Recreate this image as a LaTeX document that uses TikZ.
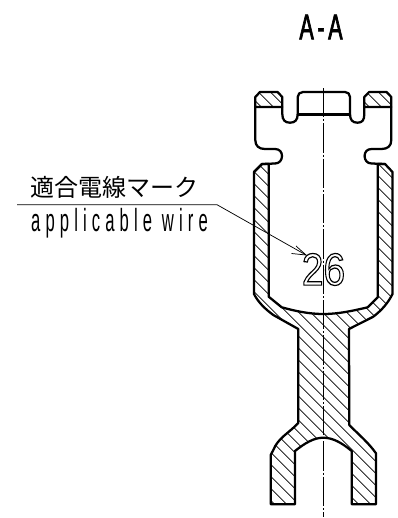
\documentclass[tikz,border=0pt]{standalone}
\usepackage{fontspec}
\setmainfont{Liberation Sans}
\newfontfamily\jpfont{Noto Sans CJK JP}
\newfontfamily\narrowfont[FakeStretch=0.52,LetterSpace=16]{Liberation Sans}
\newfontfamily\titlefont[FakeStretch=0.6,LetterSpace=10]{Liberation Sans}
\usetikzlibrary{arrows.meta}
\tikzset{
  outline/.style={line width=1.7pt,line join=round,line cap=round},
  thinline/.style={line width=0.55pt},
  hatchline/.style={line width=0.5pt},
  centre/.style={line width=0.45pt,dash pattern=on 22pt off 1.5pt on 1.5pt off 1.5pt},
  lab/.style={inner sep=0pt,anchor=center}
}
\def\bodyL{(255.3,107) -- (255.3,140) .. controls (255.3,146) and (259,149) .. (265,149) -- (275,149)
  .. controls (279.5,149) and (282,152) .. (282,156) .. controls (282,160) and (279.5,163.5) .. (275,163.5) -- (262,164) -- (254,172)}
\begin{document}
\begin{tikzpicture}[x=0.75pt,y=-0.75pt]
\useasboundingbox (0,0) rectangle (398,518);
\def\cuppath{(262,164) -- (254,172) -- (254,294) .. controls (258,302) and (265,309) .. (273.3,315) -- (298.3,329)
 -- (298.3,423) .. controls (289,433) and (278,438) .. (273.3,450) -- (270.7,455) -- (270.7,504.3) -- (295,504.3) -- (295,451)
 .. controls (305,443) and (314,437.7) .. (323.3,437.7) .. controls (333,437.7) and (342,443) .. (351.7,451)
 -- (351.7,504.3) -- (376,504.3) -- (376,453.3) .. controls (368,442) and (358,434) .. (349.3,425) -- (349,329) -- (373.3,316.7)
 .. controls (382,310) and (388,303) .. (392.5,294) -- (392.5,172) -- (385,164) -- (377.7,164)
 -- (377.7,297.3) -- (367.7,307.3) .. controls (352,311) and (338,314) .. (323.3,314)
 .. controls (309,314) and (295,311) .. (281.7,307.3) -- (268.7,296.7) -- (268.7,164) -- cycle}
\def\blockL{(255.3,107) -- (255.3,97) -- (260,92) -- (277.5,92) -- (282.3,97) -- (282.3,107) -- cycle}
\def\blockR{(391.3,107) -- (391.3,97) -- (386.6,92) -- (369.1,92) -- (364.3,97) -- (364.3,107) -- cycle}
\begin{scope}
 \clip \cuppath;
 \foreach \k in {0,...,41}
   \draw[hatchline] ({240},{240+241.7-12*\k}) -- ({400},{400+241.7-12*\k});
\end{scope}
\begin{scope}
 \clip \blockL;
 \foreach \k in {31,...,37}
   \draw[hatchline] ({240},{240+241.7-12*\k}) -- ({400},{400+241.7-12*\k});
\end{scope}
\begin{scope}
 \clip \blockR;
 \foreach \k in {40,...,46}
   \draw[hatchline] ({240},{240+241.7-12*\k}) -- ({400},{400+241.7-12*\k});
\end{scope}
\draw[centre] (323.3,88) -- (323.3,517);
\draw[outline] \cuppath;
\draw[outline] \blockL;
\draw[outline] \blockR;
\draw[outline] \bodyL;
\draw[outline] (391.3,107) -- (391.3,140) .. controls (391.3,146) and (387.6,149) .. (381.6,149) -- (371.6,149)
  .. controls (367,149) and (364.6,152) .. (364.6,156) .. controls (364.6,160) and (367,163.5) .. (371.6,163.5) -- (385,164);
\draw[outline] (282.3,107) -- (282.3,114) .. controls (282.3,120) and (285,122.7) .. (290,122.7)
  .. controls (295,122.7) and (297.7,120) .. (297.7,114) -- (297.7,97) .. controls (297.7,94) and (300,92) .. (303,92)
  -- (345,92) .. controls (348,92) and (350,94) .. (350,97) -- (350,114) .. controls (350,120) and (352.5,122.7) .. (357.5,122.7)
  .. controls (362.5,122.7) and (364.3,120) .. (364.3,114) -- (364.3,107);
\draw[outline] (297.7,114.5) -- (350,114.5);
\coordinate (ldrA) at (17,204.7);
\coordinate (ldrB) at (217,204.7);
\coordinate (ldrC) at (306,255);
\draw[thinline] (ldrA) -- (ldrB) -- (ldrC);
\draw[thinline] (296,246) -- (ldrC) -- (291.5,253.5);
\node[lab] (title) at (321,27) {\special{pdf:code 2 Tr 0.5 w}\titlefont\fontsize{27}{27}\selectfont A-A\special{pdf:code 0 Tr}};
\node[lab] (jp) at (115,187.5) {\jpfont\fontsize{18}{18}\selectfont 適合電線マーク};
\node[lab] (en) at (119.5,223) {\narrowfont\fontsize{24}{24}\selectfont applicable wire};
\node[lab,xscale=0.86] (mark) at (323.5,269.5) {\special{pdf:code 1 Tr 0.9 w}\fontsize{34}{34}\selectfont 26\special{pdf:code 0 Tr}};
\end{tikzpicture}
\end{document}
